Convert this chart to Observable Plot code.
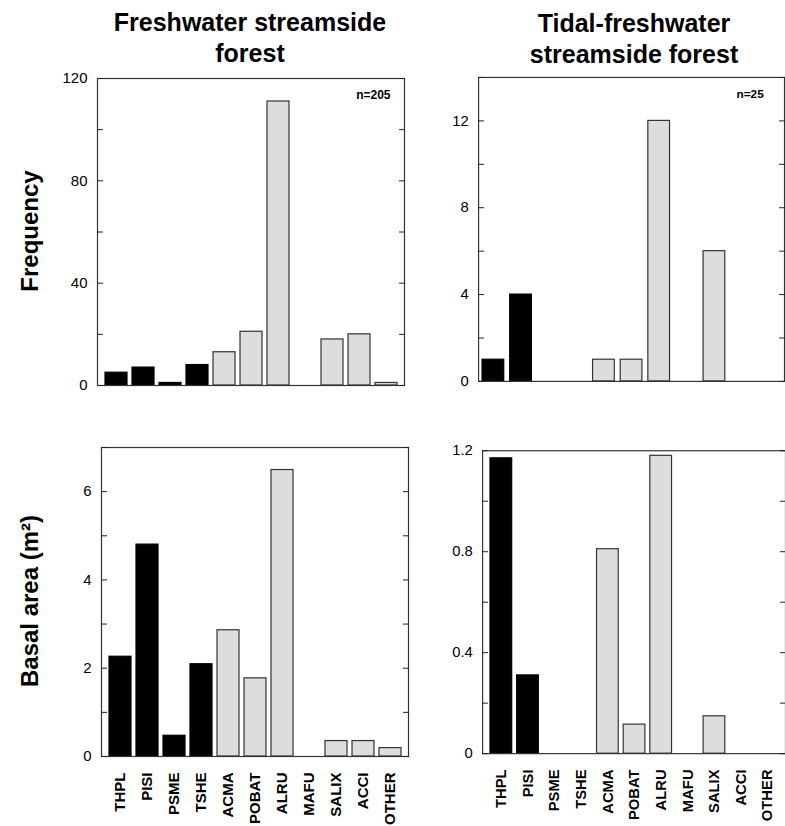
<!DOCTYPE html>
<html>
<head>
<meta charset="utf-8">
<script src="https://cdn.jsdelivr.net/npm/d3@7"></script>
<script src="https://cdn.jsdelivr.net/npm/@observablehq/plot@0.6"></script>
<style>
  html, body { margin: 0; padding: 0; overflow: hidden; background: #fff; }
  #wrap { position: relative; width: 785px; height: 826px; overflow: hidden; font-family: "Liberation Sans", Arial, sans-serif; color: #000; }
  .panel { position: absolute; }
  .title { position: absolute; font-weight: bold; font-size: 25px; line-height: 31px; text-align: center; width: 360px; }
  .ylab { position: absolute; font-weight: bold; font-size: 24px; line-height: 30px; height: 30px; width: 300px; text-align: center; transform: rotate(-90deg); white-space: nowrap; }
</style>
</head>
<body>
<div id="wrap">
  <div class="title" style="left:70px; top:7px;">Freshwater streamside<br>forest</div>
  <div class="title" style="left:454px; top:8px;">Tidal-freshwater<br>streamside forest</div>
  <div class="ylab" style="left:-120px; top:216px;">Frequency</div>
  <div class="ylab" style="left:-120px; top:586px;">Basal area (m²)</div>
</div>
<script>
const species = ["THPL","PISI","PSME","TSHE","ACMA","POBAT","ALRU","MAFU","SALIX","ACCI","OTHER"];
const conifers = ["THPL","PISI","PSME","TSHE"];

const freqFresh  = [5, 7, 1, 8, 13, 21, 111, 0, 18, 20, 1];
const freqTidal  = [1, 4, 0, 0, 1, 1, 12, 0, 6, 0, 0];
const basalFresh = [2.26, 4.8, 0.47, 2.09, 2.86, 1.77, 6.49, 0, 0.35, 0.35, 0.19];
const basalTidal = [1.17, 0.31, 0, 0, 0.81, 0.115, 1.18, 0, 0.148, 0, 0];

const nFresh = "n=205";
const nTidal = "n=25";

const freqFreshTicks  = [0, 20, 40, 60, 80, 100, 120];
const freqFreshLabels = [0, 40, 80, 120];
const freqTidalTicks  = [0, 2, 4, 6, 8, 10, 12, 14];
const freqTidalLabels = [0, 4, 8, 12];
const basalFreshTicks  = [0, 1, 2, 3, 4, 5, 6, 7];
const basalFreshLabels = [0, 2, 4, 6];
const basalTidalTicks  = [0, 0.2, 0.4, 0.6, 0.8, 1.0, 1.2];
const basalTidalLabels = [0, 0.4, 0.8, 1.2];

function makeTable(values) {
  return species.map((s, i) => ({species: s, value: values[i], conifer: conifers.includes(s)}))
    .filter(d => d.value > 0);
}

function panel({values, yDomain, ticks, labels, note, noteDx, xLabels, width, height, margins}) {
  const data = makeTable(values);
  const marks = [
    Plot.barY(data, {
      x: "species", y: "value",
      fill: d => d.conifer ? "#000" : "#dddddd",
      stroke: d => d.conifer ? "#000" : "#333",
      strokeWidth: 1.2
    }),
    Plot.frame({stroke: "#333", strokeWidth: 1.2}),
    Plot.axisY(ticks, {anchor: "left", tickSize: 6, dx: 6, tickFormat: () => "", label: null, stroke: "#222"}),
    Plot.axisY(ticks, {anchor: "right", tickSize: 6, dx: -6, tickFormat: () => "", label: null, stroke: "#222"}),
    Plot.axisY(labels, {anchor: "left", tickSize: 0, tickPadding: 10, fontSize: 15, tickFormat: d => String(d), label: null, fill: "#000"})
  ];
  if (note) {
    marks.push(Plot.text([note], {frameAnchor: "top-right", dx: noteDx, dy: 17, text: d => d, textAnchor: "end", fontSize: 12, fontWeight: "bold", lineAnchor: "middle", fill: "#000"}));
  }
  if (xLabels) {
    marks.push(Plot.axisX({tickRotate: -90, tickSize: 0, tickPadding: 16, fontSize: 15, fontWeight: "bold", label: null, fill: "#000"}));
  }
  return Plot.plot({
    width, height,
    marginLeft: margins[0], marginRight: margins[1], marginTop: margins[2], marginBottom: margins[3],
    style: {background: "transparent", fontFamily: "'Liberation Sans', Arial, sans-serif", color: "#000", overflow: "visible"},
    x: {domain: species, paddingInner: 0.2, paddingOuter: 0.1, axis: null},
    y: {domain: yDomain, axis: null},
    marks
  });
}

const wrap = document.getElementById("wrap");
function place(svg, left, top) {
  const d = document.createElement("div");
  d.className = "panel";
  d.style.left = left + "px";
  d.style.top = top + "px";
  d.appendChild(svg);
  wrap.appendChild(d);
}

place(panel({values: freqFresh, yDomain: [0, 120], ticks: freqFreshTicks, labels: freqFreshLabels,
  note: nFresh, noteDx: -14, xLabels: false, width: 410, height: 395, margins: [97, 6, 78, 10]}), 0, 0);
place(panel({values: freqTidal, yDomain: [0, 14], ticks: freqTidalTicks, labels: freqTidalLabels,
  note: nTidal, noteDx: -21, xLabels: false, width: 380, height: 395, margins: [69, 1, 78, 9]}), 410, 0);
place(panel({values: basalFresh, yDomain: [0, 7], ticks: basalFreshTicks, labels: basalFreshLabels,
  xLabels: true, width: 415, height: 431, margins: [101, 7, 52, 70]}), 0, 395);
place(panel({values: basalTidal, yDomain: [0, 1.2], ticks: basalTidalTicks, labels: basalTidalLabels,
  xLabels: true, width: 375, height: 431, margins: [68, 0, 56, 68]}), 415, 395);
</script>
</body>
</html>
